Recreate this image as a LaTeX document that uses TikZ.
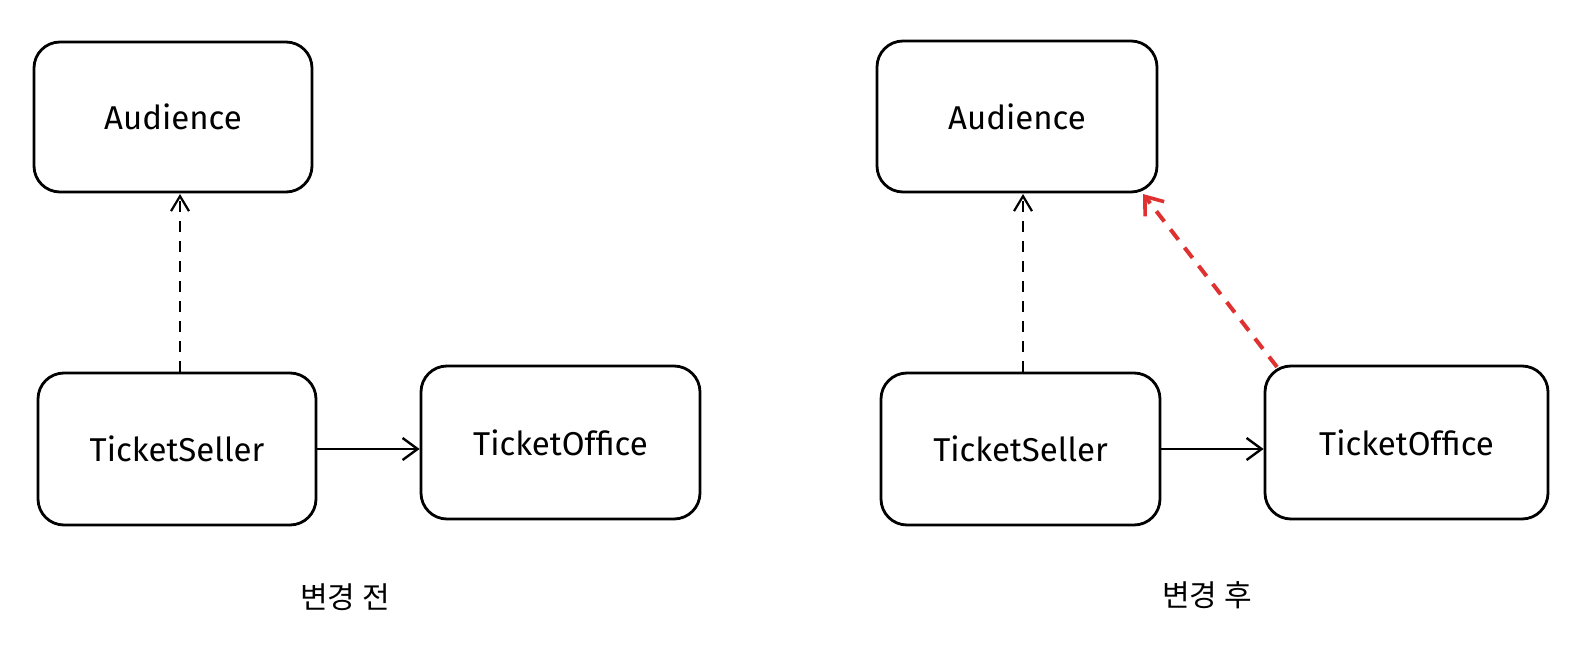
\documentclass[tikz,border=0pt]{standalone}
\usepackage{fontspec}
\setmainfont{Fira Sans}
\newfontfamily\krfont{Noto Sans CJK KR}
\usetikzlibrary{arrows.meta}
\definecolor{redline}{HTML}{E03131}
\begin{document}
\begin{tikzpicture}[x=1pt,y=-1pt,
  box/.style={draw=black, line width=2.8pt, rounded corners=26pt, fill=white, align=center, font=\fontsize{33}{38}\selectfont},
  dep/.style={draw=black, line width=2.2pt, dash pattern=on 11pt off 9pt, -{Straight Barb[length=15pt,width=18pt,line width=2.2pt]}},
  assoc/.style={draw=black, line width=2.8pt, -{Straight Barb[length=15pt,width=22pt,line width=2.4pt]}},
  newdep/.style={draw=redline, line width=4pt, dash pattern=on 13pt off 10pt, -{Straight Barb[length=16pt,width=24pt,line width=3.6pt]}},
  caption/.style={font=\krfont\fontsize{30}{36}\selectfont}]
\useasboundingbox (0,0) rectangle (1590,652);
% left
\node[box, minimum width=278pt, minimum height=150pt] (aud1) at (173,117) {Audience};
\node[box, minimum width=278pt, minimum height=152pt] (ts1) at (177,449) {TicketSeller};
\node[box, minimum width=279pt, minimum height=153pt] (to1) at (560.5,442.5) {TicketOffice};
\draw[dep] (ts1.north -| 180,0) -- (180,194);
\draw[assoc] (ts1.east |- 0,449) -- (to1.west |- 0,449);
\node[caption] (cap1) at (345,597) {변경 전};
% right
\node[box, minimum width=280pt, minimum height=151pt] (aud2) at (1017,116.5) {Audience};
\node[box, minimum width=279pt, minimum height=152pt] (ts2) at (1020.5,449) {TicketSeller};
\node[box, minimum width=283pt, minimum height=153pt] (to2) at (1406.5,442.5) {TicketOffice};
\draw[dep] (ts2.north -| 1023,0) -- (1023,194);
\draw[assoc] (ts2.east |- 0,449) -- (to2.west |- 0,449);
\coordinate (rtip) at (1143,194);
\coordinate (rstart) at (1277,367);
\draw[newdep] (rstart) -- (rtip);
\node[caption] (cap2) at (1207,595) {변경 후};
\end{tikzpicture}
\end{document}
